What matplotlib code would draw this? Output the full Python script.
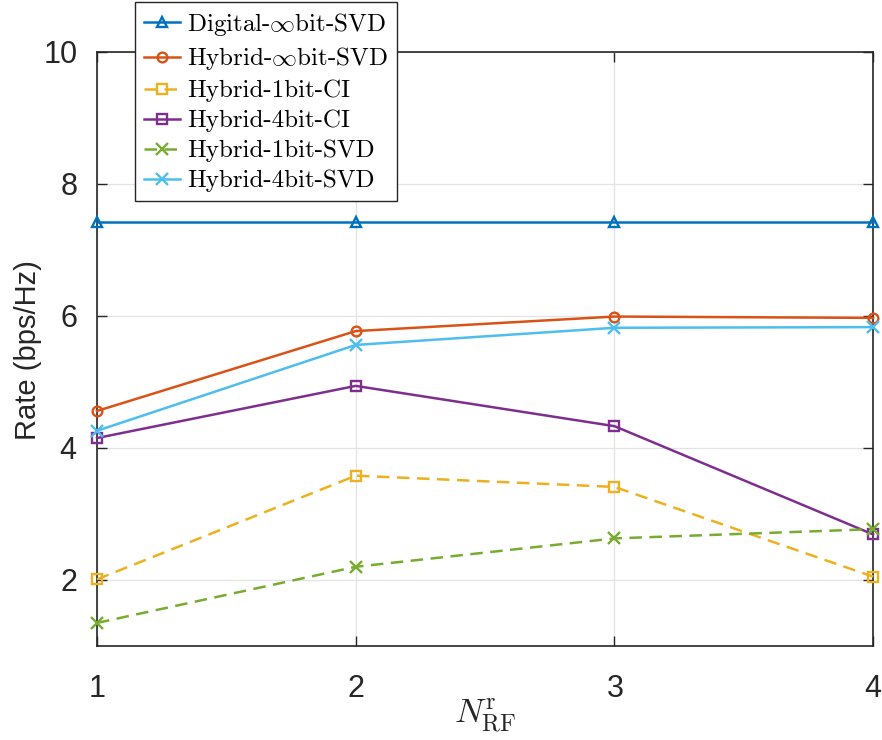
import numpy as np
import matplotlib.pyplot as plt

plt.rcParams["mathtext.fontset"] = "cm"
plt.rcParams["axes.formatter.use_mathtext"] = True

n_rf = [1, 2, 3, 4]
digital_inf_svd = [7.42, 7.42, 7.42, 7.42]
hybrid_inf_svd = [4.56, 5.77, 5.99, 5.97]
hybrid_1bit_ci = [2.01, 3.58, 3.41, 2.05]
hybrid_4bit_ci = [4.15, 4.94, 4.33, 2.69]
hybrid_1bit_svd = [1.35, 2.20, 2.63, 2.77]
hybrid_4bit_svd = [4.26, 5.56, 5.82, 5.83]

dash = (0, (5.0, 3.0))
series = [
    ("Digital-$\\infty$bit-SVD", digital_inf_svd, "#0072BD", "-", "^"),
    ("Hybrid-$\\infty$bit-SVD", hybrid_inf_svd, "#D95319", "-", "o"),
    ("Hybrid-1bit-CI", hybrid_1bit_ci, "#EDB120", dash, "s"),
    ("Hybrid-4bit-CI", hybrid_4bit_ci, "#7E2F8E", "-", "s"),
    ("Hybrid-1bit-SVD", hybrid_1bit_svd, "#77AC30", dash, "x"),
    ("Hybrid-4bit-SVD", hybrid_4bit_svd, "#4DBEEE", "-", "x"),
]

fig = plt.figure(figsize=(8.82, 7.40), dpi=100)
ax = fig.add_axes([0.110, 0.127, 0.880, 0.803])

for label, y, color, ls, marker in series:
    ms = 8 if marker == "x" else 7
    ax.plot(n_rf, y, color=color, linestyle=ls, linewidth=1.8, marker=marker,
            markersize=ms, markerfacecolor="none", markeredgewidth=1.7,
            label=label, clip_on=False, zorder=3)

ax.set_xlim(1, 4)
ax.set_ylim(1, 10)
ax.set_xticks([1, 2, 3, 4])
ax.set_yticks([2, 4, 6, 8, 10])
ax.tick_params(direction="in", length=7, width=1, labelsize=22,
               top=True, right=True, colors="#262626")
ax.tick_params(axis="x", pad=20)
ax.tick_params(axis="y", pad=14)
for lab in ax.get_xticklabels() + ax.get_yticklabels():
    lab.set_family("Liberation Sans")
for sp in ax.spines.values():
    sp.set_color("#262626")
    sp.set_linewidth(1.2)
ax.grid(True, color="#e3e3e3", linewidth=0.9)
ax.set_axisbelow(True)

# axis labels placed in figure coordinates
fig.text(28 / 882, 1 - 350 / 740, "Rate (bps/Hz)", fontsize=21,
         family="Liberation Sans", rotation=90, ha="center", va="center",
         color="#262626")
fig.text(485 / 882, 1 - 716 / 740, r"$N_{\mathrm{RF}}^{\mathrm{r}}$",
         fontsize=25, ha="center", va="center", color="#262626")

leg = ax.legend(loc="upper left", bbox_to_anchor=(0.153, 0.997),
                bbox_transform=fig.transFigure, fancybox=False, framealpha=1,
                edgecolor="#262626", prop={"family": "cmr10", "size": 18},
                handlelength=1.45, handletextpad=0.3, labelspacing=0.3,
                borderpad=0.35, borderaxespad=0)
leg.get_frame().set_linewidth(1.0)
leg.set_zorder(5)

fig.savefig("out.png", dpi=100)
